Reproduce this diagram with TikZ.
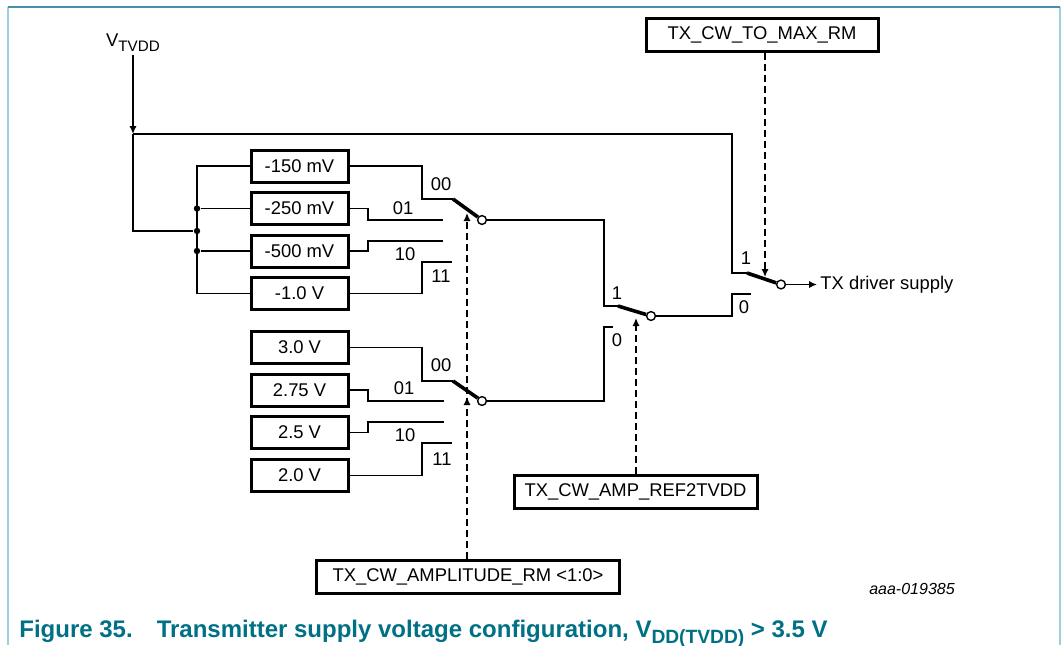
\documentclass[tikz,border=0pt]{standalone}
\usepackage{fontspec}
\setmainfont{Liberation Sans}
\usetikzlibrary{arrows.meta, positioning}
\definecolor{nxpteal}{RGB}{0,112,132}
\definecolor{frameside}{RGB}{160,205,218}
\definecolor{frametop}{RGB}{70,145,165}

\tikzset{
  wire/.style={line width=0.7pt},
  valbox/.style={draw, line width=1.5pt, minimum width=48.5pt,
                 minimum height=16pt, inner sep=0pt},
  regbox/.style={draw, line width=1.5pt, minimum height=16.5pt, inner sep=0pt},
  blade/.style={line width=1.8pt},
  pivot/.style={circle, draw, line width=0.7pt, fill=white,
                inner sep=0pt, minimum size=4.4pt},
  jdot/.style={circle, fill, inner sep=0pt, minimum size=3.2pt},
  ctrl/.style={line width=0.7pt, dash pattern=on 3.5pt off 2pt,
               -{Latex[length=4pt,width=3.6pt]}},
  tag/.style={inner sep=0pt},
}

\begin{document}
\begin{tikzpicture}[x=0.5pt, y=-0.5pt, font=\fontsize{9.2}{11}\selectfont]
        \useasboundingbox (0,0) rectangle (1064,645);

        % Frame
        \draw[frameside, line width=1pt] (7.5,645) -- (7.5,7);
        \draw[frameside, line width=1pt] (1060,7) -- (1060,645);
        \draw[frametop, line width=0.8pt] (7.5,7) -- (1060,7);

        % Supply input
        \node[inner sep=1.5pt] (vtvdd) at (133,43)
            {V\raisebox{-2.5pt}{\fontsize{7.6}{9}\selectfont TVDD}};
        \coordinate (jv) at (133,134);
        \draw[wire, -{Latex[length=4pt,width=3.6pt]}] (vtvdd.south) -- (jv);

        % Offset references
        \node[valbox] (m150) at (299.5,166)   {-150 mV};
        \node[valbox] (m250) at (299.5,208.5) {-250 mV};
        \node[valbox] (m500) at (299.5,251)   {-500 mV};
        \node[valbox] (m1v)  at (299.5,293.5) {-1.0 V};

        % Fixed references
        \node[valbox] (v30)  at (299.5,347.5) {3.0 V};
        \node[valbox] (v275) at (299.5,390)   {2.75 V};
        \node[valbox] (v25)  at (299.5,432.5) {2.5 V};
        \node[valbox] (v20)  at (299.5,475.5) {2.0 V};

        % Bus to the offset references
        \node[jdot] (jbus) at (197,231) {};
        \draw[wire] (jv) |- (jbus);
        \draw[wire] (m150.west) -| (jbus |- m1v.west) -- (m1v.west);
        \node[jdot] (j250) at (jbus |- m250.west) {};
        \node[jdot] (j500) at (jbus |- m500.west) {};
        \draw[wire] (j250) -- (m250.west);
        \draw[wire] (j500) -- (m500.west);

        % Upper selector
        \coordinate (a00) at (453,199);
        \coordinate (a01) at (443,220);
        \coordinate (a10) at (443,241);
        \coordinate (a11) at (452,262);
        \node[pivot] (swa) at (482,220) {};
        \draw[wire] (m150.east) -| (422,199) -- (a00);
        \draw[wire] (m250.east) -| (368,220) -- (a01);
        \draw[wire] (m500.east) -| (368,241) -- (a10);
        \draw[wire] (m1v.east)  -| (422,262) -- (a11);
        \draw[blade] (a00) -- (swa);
        \node[tag] (la00) at (441,184) {00};
        \node[tag] (la01) at (403,208) {01};
        \node[tag] (la10) at (405,254) {10};
        \node[tag] (la11) at (441,276) {11};

        % Lower selector
        \coordinate (b00) at (453,381);
        \coordinate (b01) at (444,401);
        \coordinate (b10) at (444,422);
        \coordinate (b11) at (452,443);
        \node[pivot] (swb) at (482,401) {};
        \draw[wire] (v30.east)  -| (422,381) -- (b00);
        \draw[wire] (v275.east) -| (368,401) -- (b01);
        \draw[wire] (v25.east)  -| (368,422) -- (b10);
        \draw[wire] (v20.east)  -| (422,443) -- (b11);
        \draw[blade] (b00) -- (swb);
        \node[tag] (lb00) at (441,365) {00};
        \node[tag] (lb01) at (404,388) {01};
        \node[tag] (lb10) at (405,435) {10};
        \node[tag] (lb11) at (442,459) {11};

        % Middle selector
        \coordinate (m1) at (618,306);
        \coordinate (m0) at (613,327);
        \node[pivot] (swm) at (651,316) {};
        \draw[wire] (swa) -| (604,306) -- (m1);
        \draw[wire] (swb) -| (604,327) -- (m0);
        \draw[blade] (m1) -- (swm);
        \node[tag] (lm1) at (617,293) {1};
        \node[tag] (lm0) at (617,340) {0};

        % Output selector
        \coordinate (o1) at (747,273);
        \coordinate (o0) at (751,294);
        \node[pivot] (swo) at (781,284.5) {};
        \draw[wire] (jv) -| (732,273) -- (o1);
        \draw[wire] (swm) -| (732,294) -- (o0);
        \draw[blade] (o1) -- (swo);
        \node[tag] (lo1) at (746,258) {1};
        \node[tag] (lo0) at (744,307) {0};
        \node[anchor=west, inner sep=1.5pt] (txout) at (817,284.5) {TX driver supply};
        \draw[wire, -{Latex[length=4pt,width=3.6pt]}] (swo) -- (txout);

        % Control registers
        \node[regbox, minimum width=116pt]   (maxrm)  at (762,35)    {TX\_CW\_TO\_MAX\_RM};
        \node[regbox, minimum width=121.5pt] (ampref) at (635.5,491.5) {TX\_CW\_AMP\_REF2TVDD};
        \node[regbox, minimum width=151.5pt] (amprm)  at (468,577)   {TX\_CW\_AMPLITUDE\_RM <1:0>};
        \coordinate (to) at (765,277);
        \coordinate (tm) at (636,318);
        \coordinate (ta) at (467,213);
        \coordinate (tb) at (467,397);
        \draw[ctrl] (maxrm.south -| to) -- (to);
        \draw[ctrl] (ampref.north -| tm) -- (tm);
        \draw[ctrl] (amprm.north -| ta) -- (ta);
        \draw[ctrl] (amprm.north -| tb) -- (tb);

        % Document number and caption
        \node[font=\itshape\fontsize{8}{10}\selectfont] (docid) at (912,589) {aaa-019385};
        \node[anchor=base west, inner sep=0pt, text=nxpteal,
              font=\bfseries\fontsize{12}{14}\selectfont] (caption) at (19,637.5)
            {Figure 35.\hspace{12pt}Transmitter supply voltage configuration,
             V\raisebox{-3pt}{\fontsize{9.6}{11}\selectfont DD(TVDD)} > 3.5 V};
    \end{tikzpicture}
\end{document}
